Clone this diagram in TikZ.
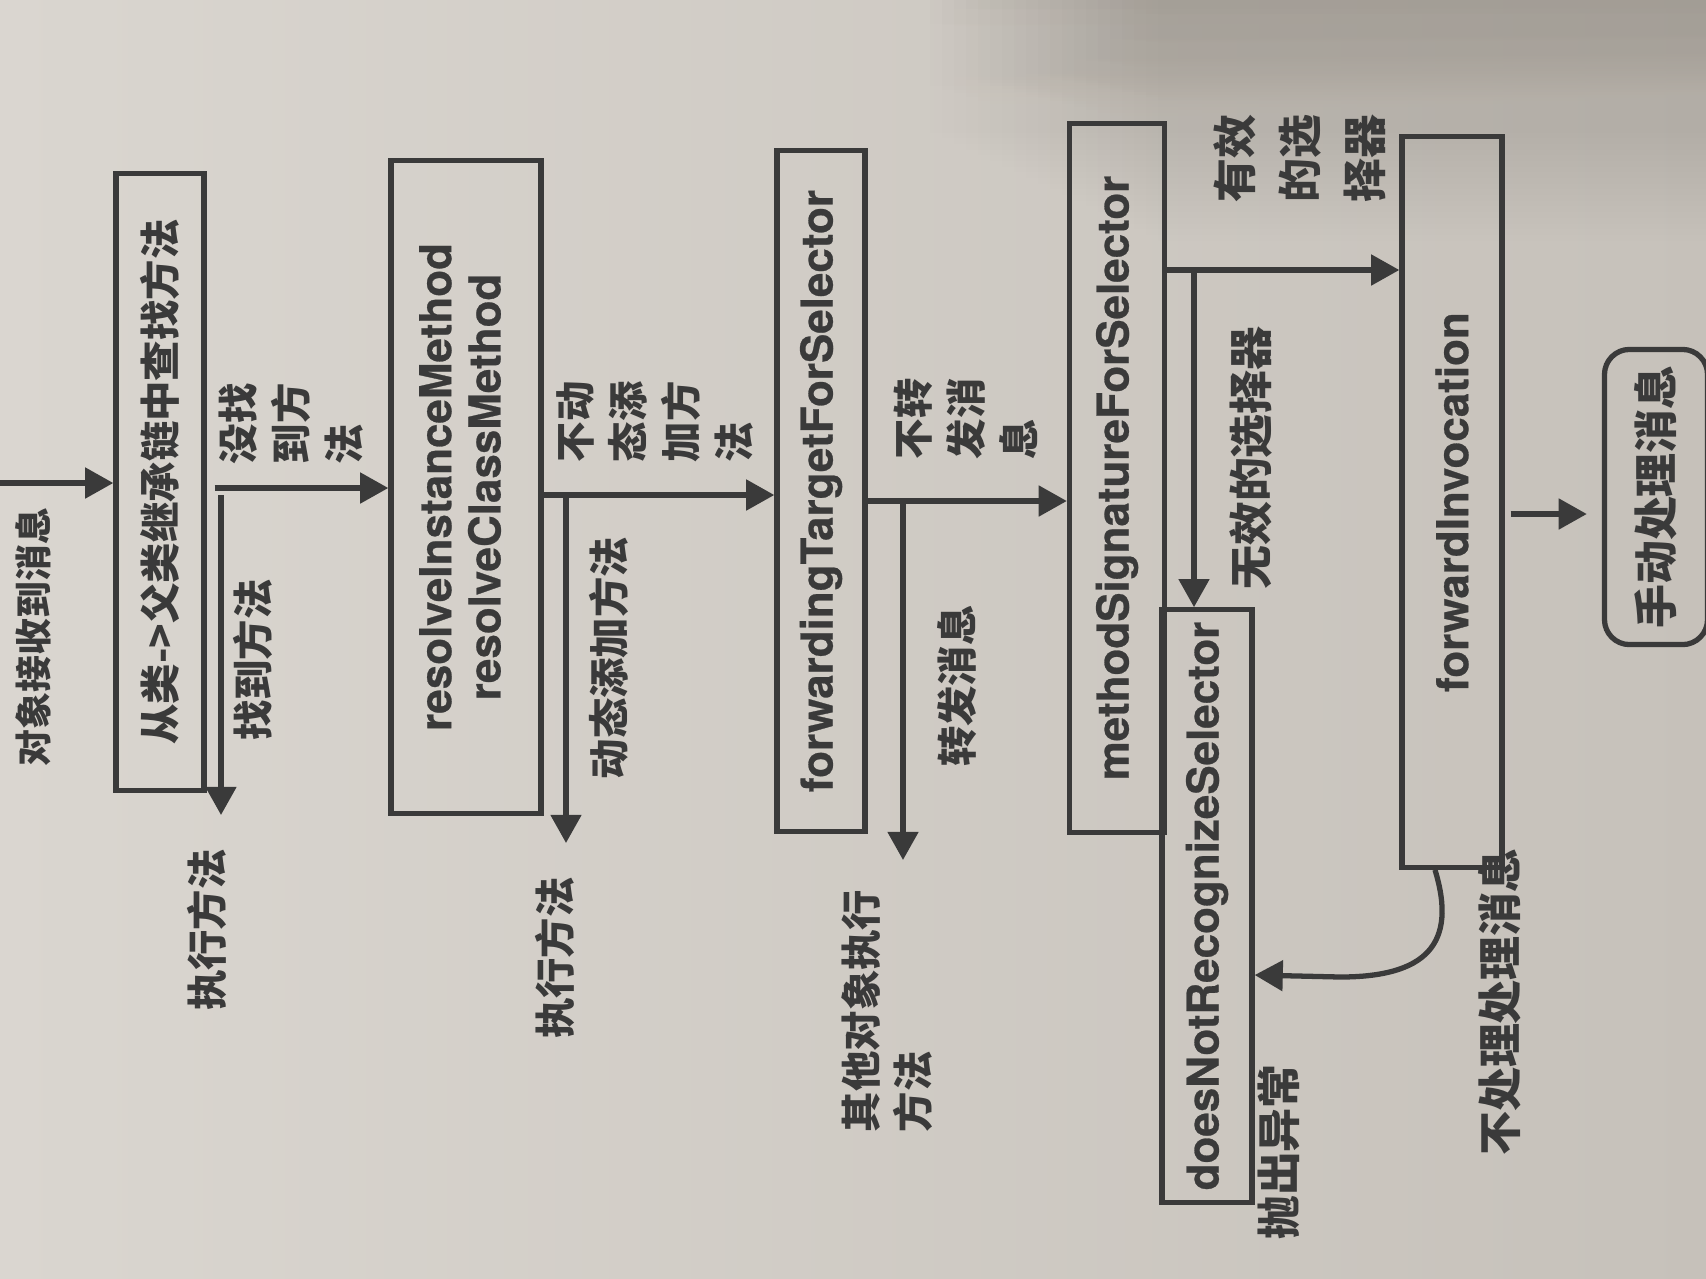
\documentclass[tikz,border=0pt]{standalone}
\usepackage{fontspec}
\setmainfont{texgyreheros-bold.otf}[FakeBold=0.6]
\newfontfamily\cjk{Noto Sans CJK SC}
\usetikzlibrary{arrows.meta,fadings}
\definecolor{inkC}{RGB}{58,58,58}
\definecolor{paperL}{RGB}{218,214,208}
\definecolor{paperR}{RGB}{198,193,186}
\definecolor{paperD}{RGB}{140,134,126}
\tikzfading[name=darkTop, top color=transparent!0, bottom color=transparent!100]

\begin{document}
\begin{tikzpicture}[x=0.01cm, y=-0.01cm,
    boxND/.style={draw=inkC,
                  line width=1.5pt,
                  inner sep=0pt,
                  text=inkC,
                  font=\fontsize{12.5}{14}\selectfont},
    txtND/.style={rotate=90,
                  inner sep=0pt,
                  text=inkC,
                  align=left,
                  font=\cjk\bfseries\fontsize{11.5}{15}\selectfont},
    bigND/.style={txtND,
                  font=\cjk\bfseries\fontsize{12.5}{18.5}\selectfont},
    arrND/.style={draw=inkC,
                  line width=1.5pt,
                  -{Triangle[length=8pt,width=8.5pt]}}]
        % paper
        \useasboundingbox (0,0) rectangle (1706,1278);
        \clip (0,0) rectangle (1706,1278);
        \shade[left color=paperL, right color=paperR] (0,0) rectangle (1706,1278);
        \foreach \i in {0,...,19}
            \fill[paperD, opacity=0.035, path fading=darkTop] (930+12*\i,0) rectangle (1706,140+6*\i);

        % boxes
        \node[boxND, font=\cjk\bfseries\fontsize{11.5}{14}\selectfont,
              minimum width=0.88cm, minimum height=6.17cm] (lookup) at (160,482)
              {\rotatebox{90}{从类->父类继承链中查找方法}};
        \node[boxND, minimum width=1.5cm, minimum height=6.52cm] (resolve) at (466,487)
              {\rotatebox{90}{\begin{tabular}{@{}c@{}}resolveInstanceMethod\\resolveClassMethod\end{tabular}}};
        \node[boxND, minimum width=0.88cm, minimum height=6.8cm] (forward) at (821,491)
              {\rotatebox{90}{forwardingTargetForSelector}};
        \node[boxND, minimum width=0.95cm, minimum height=7.08cm] (signature) at (1117,478)
              {\rotatebox{90}{methodSignatureForSelector}};
        \node[boxND, minimum width=0.9cm, minimum height=5.92cm] (unknown) at (1207,906)
              {\rotatebox{90}{doesNotRecognizeSelector}};
        \node[boxND, minimum width=1.0cm, minimum height=7.3cm] (invoke) at (1452,502)
              {\rotatebox{90}{forwardInvocation}};
        \node[boxND, rounded corners=0.25cm, font=\cjk\bfseries\fontsize{12.5}{15}\selectfont,
              minimum width=1.03cm, minimum height=2.95cm] (manual) at (1656,497)
              {\rotatebox{90}{手动处理消息}};

        % labels
        \node[txtND, font=\cjk\bfseries\fontsize{10.5}{13}\selectfont] (recv) at (33,637) {对象接收到消息};
        \node[txtND, anchor=west] (miss) at (291,465) {没找\\到方\\法};
        \node[txtND] (found) at (253,660) {找到方法};
        \node[txtND] (run1) at (207,930) {执行方法};
        \node[txtND, anchor=west] (nodyn) at (655,463) {不动\\态添\\加方\\法};
        \node[txtND] (dyn) at (609,658) {动态添加方法};
        \node[txtND] (run2) at (555,958) {执行方法};
        \node[txtND, anchor=west] (nofwd) at (966,460) {不转\\发消\\息};
        \node[txtND] (fwd) at (957,686) {转发消息};
        \node[txtND, anchor=west] (other) at (887,1133) {其他对象执行\\方法};
        \node[bigND, anchor=west] (valid) at (1300,203) {有效\\的选\\择器};
        \node[bigND] (invalid) at (1251,458) {无效的选择器};
        \node[bigND] (skip) at (1500,1002) {不处理处理消息};
        \node[bigND] (throw) at (1279,1152) {抛出异常};

        % connectors
        \coordinate (entry) at (0,483);
        \coordinate (br1) at (221,495);
        \coordinate (end1) at (221,815);
        \coordinate (br2) at (566,495);
        \coordinate (end2) at (566,843);
        \coordinate (br3) at (903,501);
        \coordinate (end3) at (903,860);
        \coordinate (br4) at (1194,270);
        \draw[arrND] (entry) -- (lookup.west |- entry);
        \draw[arrND, shorten <=0.08cm] (lookup.east |- 0,488) -- (resolve.west |- 0,488);
        \draw[arrND] (br1) -- (end1);
        \draw[arrND] (resolve.east |- br2) -- (forward.west |- br2);
        \draw[arrND] (br2) -- (end2);
        \draw[arrND] (forward.east |- br3) -- (signature.west |- br3);
        \draw[arrND] (br3) -- (end3);
        \draw[arrND] (signature.east |- br4) -- (invoke.west |- br4);
        \draw[arrND] (br4) -- (unknown.north -| br4);
        \draw[arrND, shorten <=0.06cm, shorten >=0.15cm] (invoke.east |- 0,514) -- (manual.west |- 0,514);
        \draw[arrND] ([xshift=-0.17cm]invoke.south) .. controls (1458,945) and (1425,977) .. (1340,977)
              -- (unknown.east |- 0,975);
\end{tikzpicture}
\end{document}
